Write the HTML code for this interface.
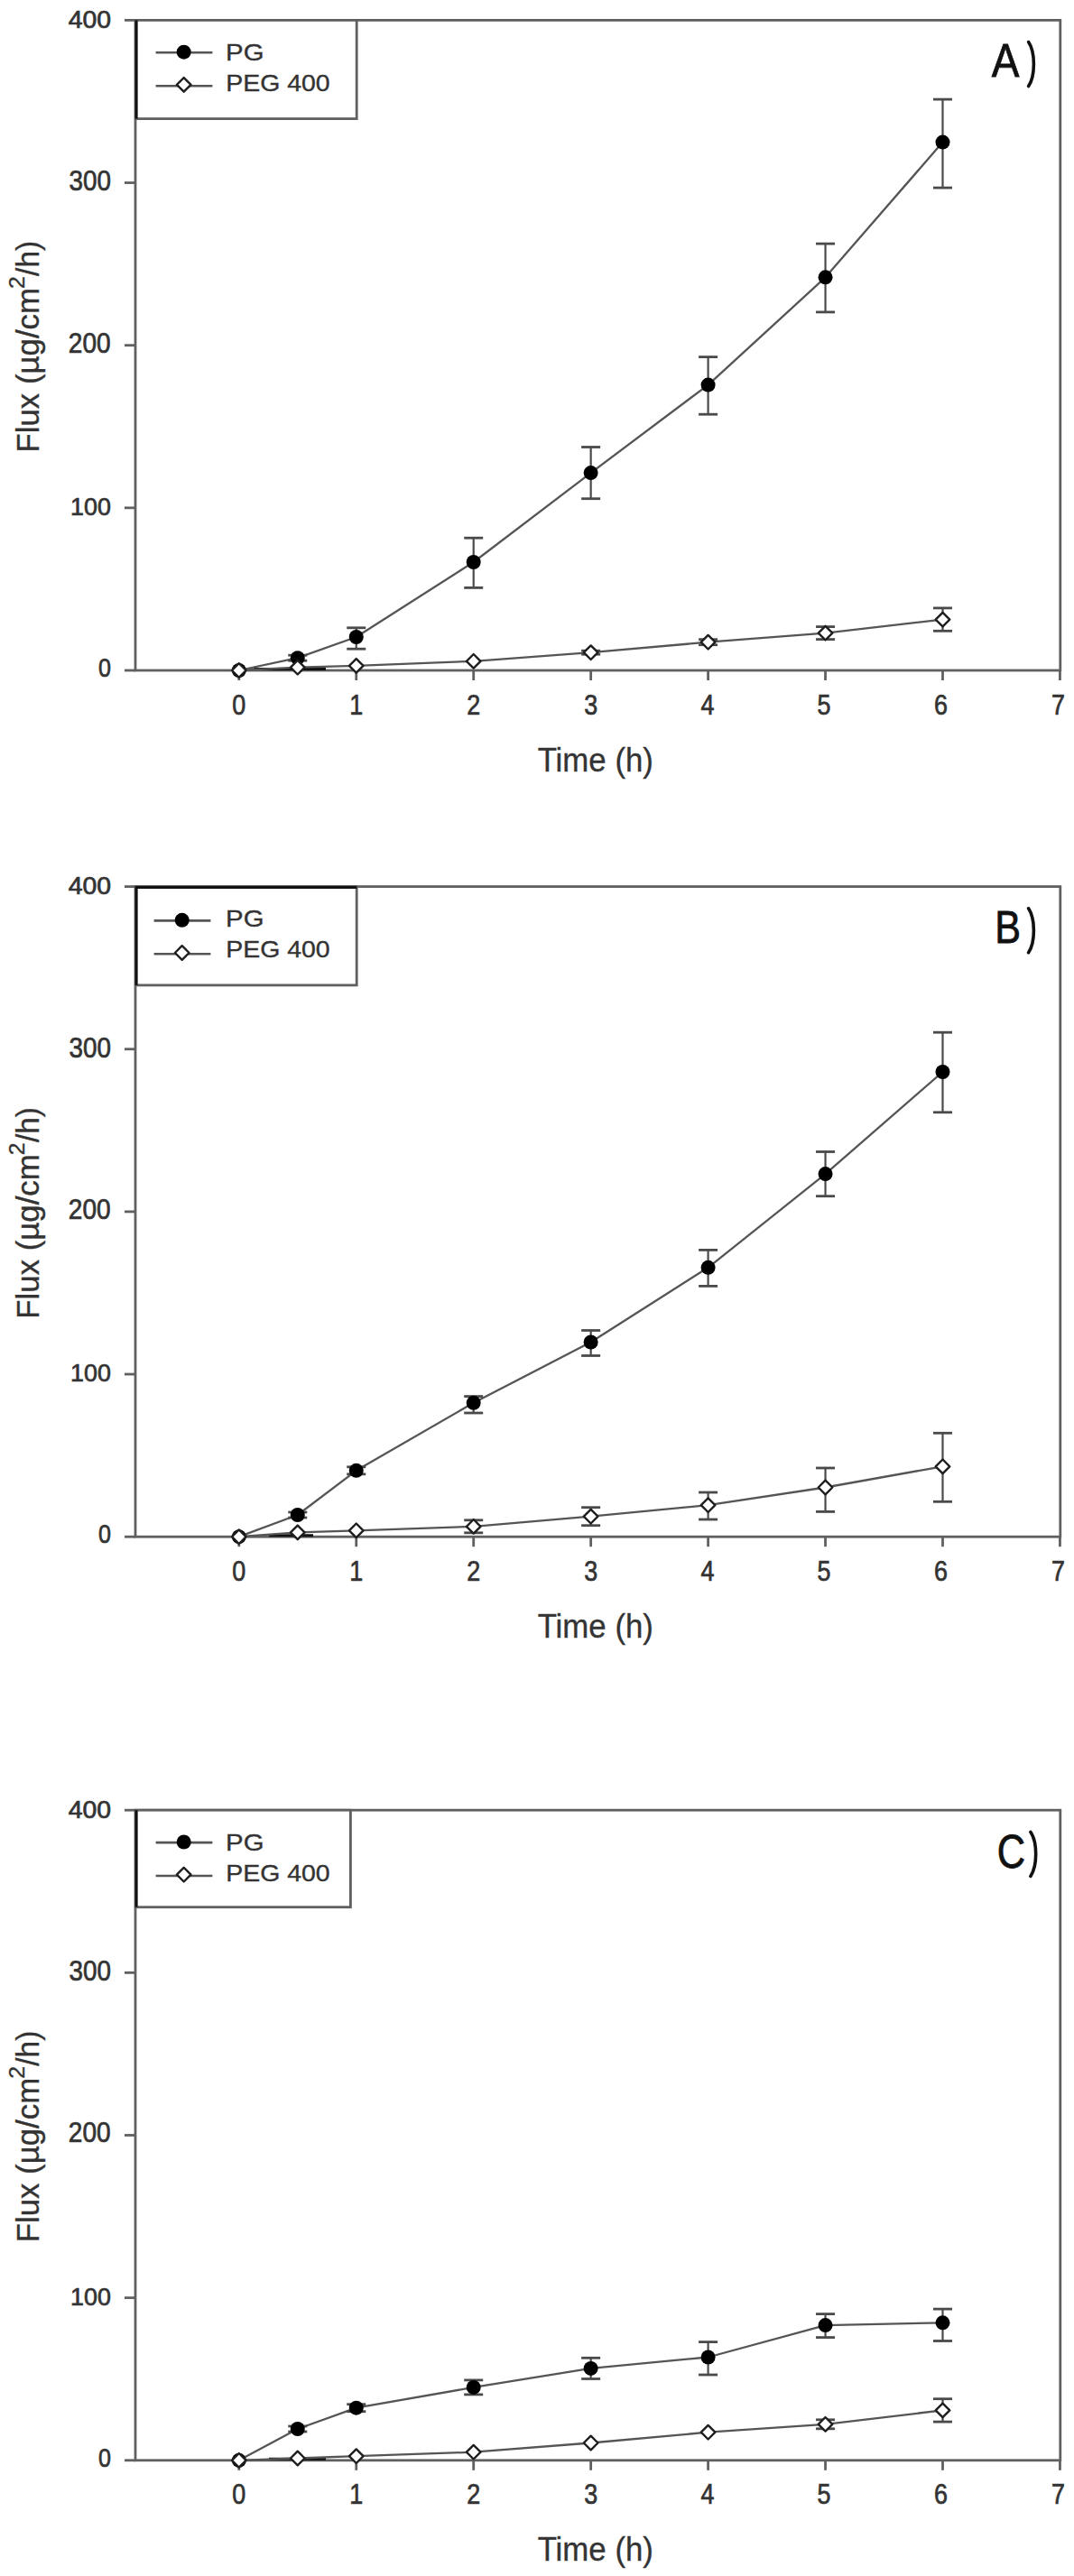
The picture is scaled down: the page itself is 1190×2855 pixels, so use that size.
<!DOCTYPE html>
<html><head><meta charset="utf-8"><title>Flux chart</title><style>html,body{margin:0;padding:0;background:#fff;}body{width:1190px;height:2855px;overflow:hidden;font-family:"Liberation Sans",sans-serif;}svg{display:block;}</style></head><body>
<svg width="1190" height="2855" viewBox="0 0 1190 2855" font-family="Liberation Sans, sans-serif">
<rect width="1190" height="2855" fill="#fff"/>
<g>
<rect width="1190" height="2855" fill="#fff"/>
<g transform="translate(0,0.00)">
<line x1="138" y1="743.00" x2="150.00" y2="743.00" stroke="#606060" stroke-width="2.8"/>
<text x="108.92" y="749.91" font-size="28.81" textLength="13.96" lengthAdjust="spacingAndGlyphs" fill="#333" stroke="#333" stroke-width="0.7">0</text>
<line x1="138" y1="562.85" x2="150.00" y2="562.85" stroke="#606060" stroke-width="2.8"/>
<text x="78.05" y="570.72" font-size="28.39" textLength="44.91" lengthAdjust="spacingAndGlyphs" fill="#333" stroke="#333" stroke-width="0.7">100</text>
<line x1="138" y1="382.70" x2="150.00" y2="382.70" stroke="#606060" stroke-width="2.8"/>
<text x="75.80" y="390.59" font-size="31.21" textLength="46.81" lengthAdjust="spacingAndGlyphs" fill="#333" stroke="#333" stroke-width="0.7">200</text>
<line x1="138" y1="202.55" x2="150.00" y2="202.55" stroke="#606060" stroke-width="2.8"/>
<text x="76.54" y="211.49" font-size="31.21" textLength="46.46" lengthAdjust="spacingAndGlyphs" fill="#333" stroke="#333" stroke-width="0.7">300</text>
<line x1="138" y1="22.40" x2="150.00" y2="22.40" stroke="#606060" stroke-width="2.8"/>
<text x="75.65" y="31.03" font-size="26.98" textLength="47.37" lengthAdjust="spacingAndGlyphs" fill="#333" stroke="#333" stroke-width="0.7">400</text>
<line x1="264.80" y1="743.00" x2="264.80" y2="754" stroke="#606060" stroke-width="2.8"/>
<text x="257.31" y="791.60" font-size="30.60" textLength="14.98" lengthAdjust="spacingAndGlyphs" fill="#333" stroke="#333" stroke-width="0.7">0</text>
<line x1="394.75" y1="743.00" x2="394.75" y2="754" stroke="#606060" stroke-width="2.8"/>
<text x="387.20" y="791.60" font-size="30.60" textLength="14.98" lengthAdjust="spacingAndGlyphs" fill="#333" stroke="#333" stroke-width="0.7">1</text>
<line x1="524.70" y1="743.00" x2="524.70" y2="754" stroke="#606060" stroke-width="2.8"/>
<text x="517.21" y="791.60" font-size="30.60" textLength="14.98" lengthAdjust="spacingAndGlyphs" fill="#333" stroke="#333" stroke-width="0.7">2</text>
<line x1="654.65" y1="743.00" x2="654.65" y2="754" stroke="#606060" stroke-width="2.8"/>
<text x="647.24" y="791.60" font-size="30.60" textLength="14.98" lengthAdjust="spacingAndGlyphs" fill="#333" stroke="#333" stroke-width="0.7">3</text>
<line x1="784.60" y1="743.00" x2="784.60" y2="754" stroke="#606060" stroke-width="2.8"/>
<text x="776.59" y="791.60" font-size="30.60" textLength="14.98" lengthAdjust="spacingAndGlyphs" fill="#333" stroke="#333" stroke-width="0.7">4</text>
<line x1="914.55" y1="743.00" x2="914.55" y2="754" stroke="#606060" stroke-width="2.8"/>
<text x="905.39" y="791.60" font-size="30.60" textLength="14.98" lengthAdjust="spacingAndGlyphs" fill="#333" stroke="#333" stroke-width="0.7">5</text>
<line x1="1044.50" y1="743.00" x2="1044.50" y2="754" stroke="#606060" stroke-width="2.8"/>
<text x="1035.02" y="791.60" font-size="30.60" textLength="14.98" lengthAdjust="spacingAndGlyphs" fill="#333" stroke="#333" stroke-width="0.7">6</text>
<line x1="1174.45" y1="743.00" x2="1174.45" y2="754" stroke="#606060" stroke-width="2.8"/>
<text x="1164.95" y="791.60" font-size="30.60" textLength="14.98" lengthAdjust="spacingAndGlyphs" fill="#333" stroke="#333" stroke-width="0.7">7</text>
<rect x="150.00" y="22.40" width="1024.80" height="720.60" fill="none" stroke="#606060" stroke-width="2.8"/>
<text x="595.63" y="854.70" font-size="36.00" textLength="128.33" lengthAdjust="spacingAndGlyphs" fill="#333" stroke="#333" stroke-width="0.35">Time (h)</text>
<text transform="translate(43.10,498.60) rotate(-90)" x="-2.85" y="0" font-size="35.50" textLength="182.35" lengthAdjust="spacingAndGlyphs" fill="#333" stroke="#333" stroke-width="0.35">Flux (µg/cm</text>
<text transform="translate(26.90,318.70) rotate(-90)" x="-1.24" y="0" font-size="24.00" textLength="13.78" lengthAdjust="spacingAndGlyphs" fill="#333" stroke="#333" stroke-width="0.35">2</text>
<text transform="translate(43.10,305.90) rotate(-90)" x="0.00" y="0" font-size="35.50" textLength="39.08" lengthAdjust="spacingAndGlyphs" fill="#333" stroke="#333" stroke-width="0.35">/h)</text>
<text x="1098.71" y="85.40" font-size="51.74" textLength="30.68" lengthAdjust="spacingAndGlyphs" fill="#111" stroke="#111" stroke-width="0.8">A</text>
<path d="M1139.60 46.6C1147.30 58 1147.30 84 1139.60 95.6" fill="none" stroke="#111" stroke-width="3.6" stroke-linecap="round"/>
<rect x="151" y="22.40" width="244.20" height="109.20" fill="#fff" stroke="#606060" stroke-width="2.8"/>
<line x1="151" y1="22.40" x2="151" y2="131.60" stroke="#111" stroke-width="3"/>
<g transform="translate(0,0)">
<line x1="172.6" y1="58.3" x2="235.4" y2="58.3" stroke="#555" stroke-width="2.6"/>
<circle cx="203.7" cy="57.7" r="8.0" fill="#000"/>
<line x1="172.6" y1="95.2" x2="235.4" y2="95.2" stroke="#555" stroke-width="2.6"/>
<path d="M203.70 86.10L211.50 93.90L203.70 101.70L195.90 93.90Z" fill="#fff" stroke="#1e1e1e" stroke-width="2.4" stroke-linejoin="round"/>
</g>
<text x="250.09" y="67.20" font-size="26.50" textLength="42.40" lengthAdjust="spacingAndGlyphs" fill="#333" stroke="#333" stroke-width="0.35">PG</text>
<text x="250.17" y="101.10" font-size="26.50" textLength="115.55" lengthAdjust="spacingAndGlyphs" fill="#333" stroke="#333" stroke-width="0.35">PEG 400</text>
<line x1="281" y1="741.5" x2="361" y2="741.5" stroke="#111" stroke-width="3"/>
<polyline points="264.80,743.00 329.77,729.20 394.75,706.00 524.70,623.00 654.65,524.10 784.60,426.60 914.55,307.30 1044.50,157.60" fill="none" stroke="#555" stroke-width="2.3" stroke-linejoin="round"/>
<polyline points="264.80,743.00 329.77,739.70 394.75,737.90 524.70,732.80 654.65,723.20 784.60,711.70 914.55,701.60 1044.50,686.60" fill="none" stroke="#555" stroke-width="2.3" stroke-linejoin="round"/>
<line x1="329.77" y1="726.20" x2="329.77" y2="732.20" stroke="#4a4a4a" stroke-width="2.2"/>
<line x1="319.27" y1="726.20" x2="340.27" y2="726.20" stroke="#4a4a4a" stroke-width="2.8"/>
<line x1="319.27" y1="732.20" x2="340.27" y2="732.20" stroke="#4a4a4a" stroke-width="2.8"/>
<line x1="394.75" y1="695.80" x2="394.75" y2="719.20" stroke="#4a4a4a" stroke-width="2.2"/>
<line x1="384.25" y1="695.80" x2="405.25" y2="695.80" stroke="#4a4a4a" stroke-width="2.8"/>
<line x1="384.25" y1="719.20" x2="405.25" y2="719.20" stroke="#4a4a4a" stroke-width="2.8"/>
<line x1="524.70" y1="596.20" x2="524.70" y2="651.40" stroke="#4a4a4a" stroke-width="2.2"/>
<line x1="514.20" y1="596.20" x2="535.20" y2="596.20" stroke="#4a4a4a" stroke-width="2.8"/>
<line x1="514.20" y1="651.40" x2="535.20" y2="651.40" stroke="#4a4a4a" stroke-width="2.8"/>
<line x1="654.65" y1="495.50" x2="654.65" y2="552.70" stroke="#4a4a4a" stroke-width="2.2"/>
<line x1="644.15" y1="495.50" x2="665.15" y2="495.50" stroke="#4a4a4a" stroke-width="2.8"/>
<line x1="644.15" y1="552.70" x2="665.15" y2="552.70" stroke="#4a4a4a" stroke-width="2.8"/>
<line x1="784.60" y1="395.60" x2="784.60" y2="459.20" stroke="#4a4a4a" stroke-width="2.2"/>
<line x1="774.10" y1="395.60" x2="795.10" y2="395.60" stroke="#4a4a4a" stroke-width="2.8"/>
<line x1="774.10" y1="459.20" x2="795.10" y2="459.20" stroke="#4a4a4a" stroke-width="2.8"/>
<line x1="914.55" y1="270.10" x2="914.55" y2="345.90" stroke="#4a4a4a" stroke-width="2.2"/>
<line x1="904.05" y1="270.10" x2="925.05" y2="270.10" stroke="#4a4a4a" stroke-width="2.8"/>
<line x1="904.05" y1="345.90" x2="925.05" y2="345.90" stroke="#4a4a4a" stroke-width="2.8"/>
<line x1="1044.50" y1="110.10" x2="1044.50" y2="208.10" stroke="#4a4a4a" stroke-width="2.2"/>
<line x1="1034.00" y1="110.10" x2="1055.00" y2="110.10" stroke="#4a4a4a" stroke-width="2.8"/>
<line x1="1034.00" y1="208.10" x2="1055.00" y2="208.10" stroke="#4a4a4a" stroke-width="2.8"/>
<circle cx="264.80" cy="743.00" r="8.0" fill="#000"/>
<circle cx="329.77" cy="729.20" r="8.0" fill="#000"/>
<circle cx="394.75" cy="706.00" r="8.0" fill="#000"/>
<circle cx="524.70" cy="623.00" r="8.0" fill="#000"/>
<circle cx="654.65" cy="524.10" r="8.0" fill="#000"/>
<circle cx="784.60" cy="426.60" r="8.0" fill="#000"/>
<circle cx="914.55" cy="307.30" r="8.0" fill="#000"/>
<circle cx="1044.50" cy="157.60" r="8.0" fill="#000"/>
<line x1="654.65" y1="721.20" x2="654.65" y2="725.20" stroke="#4a4a4a" stroke-width="2.2"/>
<line x1="644.15" y1="721.20" x2="665.15" y2="721.20" stroke="#4a4a4a" stroke-width="2.8"/>
<line x1="644.15" y1="725.20" x2="665.15" y2="725.20" stroke="#4a4a4a" stroke-width="2.8"/>
<line x1="784.60" y1="708.70" x2="784.60" y2="714.70" stroke="#4a4a4a" stroke-width="2.2"/>
<line x1="774.10" y1="708.70" x2="795.10" y2="708.70" stroke="#4a4a4a" stroke-width="2.8"/>
<line x1="774.10" y1="714.70" x2="795.10" y2="714.70" stroke="#4a4a4a" stroke-width="2.8"/>
<line x1="914.55" y1="694.60" x2="914.55" y2="708.60" stroke="#4a4a4a" stroke-width="2.2"/>
<line x1="904.05" y1="694.60" x2="925.05" y2="694.60" stroke="#4a4a4a" stroke-width="2.8"/>
<line x1="904.05" y1="708.60" x2="925.05" y2="708.60" stroke="#4a4a4a" stroke-width="2.8"/>
<line x1="1044.50" y1="673.90" x2="1044.50" y2="699.30" stroke="#4a4a4a" stroke-width="2.2"/>
<line x1="1034.00" y1="673.90" x2="1055.00" y2="673.90" stroke="#4a4a4a" stroke-width="2.8"/>
<line x1="1034.00" y1="699.30" x2="1055.00" y2="699.30" stroke="#4a4a4a" stroke-width="2.8"/>
<path d="M264.80 735.20L272.60 743.00L264.80 750.80L257.00 743.00Z" fill="#fff" stroke="#1e1e1e" stroke-width="2.4" stroke-linejoin="round"/>
<path d="M329.77 731.90L337.57 739.70L329.77 747.50L321.97 739.70Z" fill="#fff" stroke="#1e1e1e" stroke-width="2.4" stroke-linejoin="round"/>
<path d="M394.75 730.10L402.55 737.90L394.75 745.70L386.95 737.90Z" fill="#fff" stroke="#1e1e1e" stroke-width="2.4" stroke-linejoin="round"/>
<path d="M524.70 725.00L532.50 732.80L524.70 740.60L516.90 732.80Z" fill="#fff" stroke="#1e1e1e" stroke-width="2.4" stroke-linejoin="round"/>
<path d="M654.65 715.40L662.45 723.20L654.65 731.00L646.85 723.20Z" fill="#fff" stroke="#1e1e1e" stroke-width="2.4" stroke-linejoin="round"/>
<path d="M784.60 703.90L792.40 711.70L784.60 719.50L776.80 711.70Z" fill="#fff" stroke="#1e1e1e" stroke-width="2.4" stroke-linejoin="round"/>
<path d="M914.55 693.80L922.35 701.60L914.55 709.40L906.75 701.60Z" fill="#fff" stroke="#1e1e1e" stroke-width="2.4" stroke-linejoin="round"/>
<path d="M1044.50 678.80L1052.30 686.60L1044.50 694.40L1036.70 686.60Z" fill="#fff" stroke="#1e1e1e" stroke-width="2.4" stroke-linejoin="round"/>
</g>
<g transform="translate(0,960.20)">
<line x1="138" y1="743.00" x2="150.00" y2="743.00" stroke="#606060" stroke-width="2.8"/>
<text x="108.92" y="749.91" font-size="28.81" textLength="13.96" lengthAdjust="spacingAndGlyphs" fill="#333" stroke="#333" stroke-width="0.7">0</text>
<line x1="138" y1="562.85" x2="150.00" y2="562.85" stroke="#606060" stroke-width="2.8"/>
<text x="78.05" y="570.72" font-size="28.39" textLength="44.91" lengthAdjust="spacingAndGlyphs" fill="#333" stroke="#333" stroke-width="0.7">100</text>
<line x1="138" y1="382.70" x2="150.00" y2="382.70" stroke="#606060" stroke-width="2.8"/>
<text x="75.80" y="390.59" font-size="31.21" textLength="46.81" lengthAdjust="spacingAndGlyphs" fill="#333" stroke="#333" stroke-width="0.7">200</text>
<line x1="138" y1="202.55" x2="150.00" y2="202.55" stroke="#606060" stroke-width="2.8"/>
<text x="76.54" y="211.49" font-size="31.21" textLength="46.46" lengthAdjust="spacingAndGlyphs" fill="#333" stroke="#333" stroke-width="0.7">300</text>
<line x1="138" y1="22.40" x2="150.00" y2="22.40" stroke="#606060" stroke-width="2.8"/>
<text x="75.65" y="31.03" font-size="26.98" textLength="47.37" lengthAdjust="spacingAndGlyphs" fill="#333" stroke="#333" stroke-width="0.7">400</text>
<line x1="264.80" y1="743.00" x2="264.80" y2="754" stroke="#606060" stroke-width="2.8"/>
<text x="257.31" y="791.60" font-size="30.60" textLength="14.98" lengthAdjust="spacingAndGlyphs" fill="#333" stroke="#333" stroke-width="0.7">0</text>
<line x1="394.75" y1="743.00" x2="394.75" y2="754" stroke="#606060" stroke-width="2.8"/>
<text x="387.20" y="791.60" font-size="30.60" textLength="14.98" lengthAdjust="spacingAndGlyphs" fill="#333" stroke="#333" stroke-width="0.7">1</text>
<line x1="524.70" y1="743.00" x2="524.70" y2="754" stroke="#606060" stroke-width="2.8"/>
<text x="517.21" y="791.60" font-size="30.60" textLength="14.98" lengthAdjust="spacingAndGlyphs" fill="#333" stroke="#333" stroke-width="0.7">2</text>
<line x1="654.65" y1="743.00" x2="654.65" y2="754" stroke="#606060" stroke-width="2.8"/>
<text x="647.24" y="791.60" font-size="30.60" textLength="14.98" lengthAdjust="spacingAndGlyphs" fill="#333" stroke="#333" stroke-width="0.7">3</text>
<line x1="784.60" y1="743.00" x2="784.60" y2="754" stroke="#606060" stroke-width="2.8"/>
<text x="776.59" y="791.60" font-size="30.60" textLength="14.98" lengthAdjust="spacingAndGlyphs" fill="#333" stroke="#333" stroke-width="0.7">4</text>
<line x1="914.55" y1="743.00" x2="914.55" y2="754" stroke="#606060" stroke-width="2.8"/>
<text x="905.39" y="791.60" font-size="30.60" textLength="14.98" lengthAdjust="spacingAndGlyphs" fill="#333" stroke="#333" stroke-width="0.7">5</text>
<line x1="1044.50" y1="743.00" x2="1044.50" y2="754" stroke="#606060" stroke-width="2.8"/>
<text x="1035.02" y="791.60" font-size="30.60" textLength="14.98" lengthAdjust="spacingAndGlyphs" fill="#333" stroke="#333" stroke-width="0.7">6</text>
<line x1="1174.45" y1="743.00" x2="1174.45" y2="754" stroke="#606060" stroke-width="2.8"/>
<text x="1164.95" y="791.60" font-size="30.60" textLength="14.98" lengthAdjust="spacingAndGlyphs" fill="#333" stroke="#333" stroke-width="0.7">7</text>
<rect x="150.00" y="22.40" width="1024.80" height="720.60" fill="none" stroke="#606060" stroke-width="2.8"/>
<text x="595.63" y="854.70" font-size="36.00" textLength="128.33" lengthAdjust="spacingAndGlyphs" fill="#333" stroke="#333" stroke-width="0.35">Time (h)</text>
<text transform="translate(43.10,498.60) rotate(-90)" x="-2.85" y="0" font-size="35.50" textLength="182.35" lengthAdjust="spacingAndGlyphs" fill="#333" stroke="#333" stroke-width="0.35">Flux (µg/cm</text>
<text transform="translate(26.90,318.70) rotate(-90)" x="-1.24" y="0" font-size="24.00" textLength="13.78" lengthAdjust="spacingAndGlyphs" fill="#333" stroke="#333" stroke-width="0.35">2</text>
<text transform="translate(43.10,305.90) rotate(-90)" x="0.00" y="0" font-size="35.50" textLength="39.08" lengthAdjust="spacingAndGlyphs" fill="#333" stroke="#333" stroke-width="0.35">/h)</text>
<text x="1102.25" y="85.20" font-size="50.87" textLength="28.84" lengthAdjust="spacingAndGlyphs" fill="#111" stroke="#111" stroke-width="0.8">B</text>
<path d="M1139.60 46.6C1147.30 58 1147.30 84 1139.60 95.6" fill="none" stroke="#111" stroke-width="3.6" stroke-linecap="round"/>
<rect x="151" y="22.40" width="244.20" height="109.30" fill="#fff" stroke="#606060" stroke-width="2.8"/>
<line x1="150" y1="23.3" x2="395.20" y2="23.3" stroke="#111" stroke-width="3.2"/>
<line x1="151" y1="22.40" x2="151" y2="131.70" stroke="#111" stroke-width="3"/>
<g transform="translate(-2.0,1.9)">
<line x1="172.6" y1="58.3" x2="235.4" y2="58.3" stroke="#555" stroke-width="2.6"/>
<circle cx="203.7" cy="57.7" r="8.0" fill="#000"/>
<line x1="172.6" y1="95.2" x2="235.4" y2="95.2" stroke="#555" stroke-width="2.6"/>
<path d="M203.70 86.10L211.50 93.90L203.70 101.70L195.90 93.90Z" fill="#fff" stroke="#1e1e1e" stroke-width="2.4" stroke-linejoin="round"/>
</g>
<text x="250.09" y="67.20" font-size="26.50" textLength="42.40" lengthAdjust="spacingAndGlyphs" fill="#333" stroke="#333" stroke-width="0.35">PG</text>
<text x="250.17" y="101.10" font-size="26.50" textLength="115.55" lengthAdjust="spacingAndGlyphs" fill="#333" stroke="#333" stroke-width="0.35">PEG 400</text>
<line x1="298" y1="741.5" x2="347" y2="741.5" stroke="#111" stroke-width="3"/>
<polyline points="264.80,743.00 329.77,718.80 394.75,669.60 524.70,594.60 654.65,527.30 784.60,444.60 914.55,340.90 1044.50,227.80" fill="none" stroke="#555" stroke-width="2.3" stroke-linejoin="round"/>
<polyline points="264.80,743.00 329.77,738.20 394.75,736.10 524.70,731.60 654.65,720.50 784.60,708.00 914.55,688.30 1044.50,665.10" fill="none" stroke="#555" stroke-width="2.3" stroke-linejoin="round"/>
<line x1="329.77" y1="715.80" x2="329.77" y2="721.80" stroke="#4a4a4a" stroke-width="2.2"/>
<line x1="319.27" y1="715.80" x2="340.27" y2="715.80" stroke="#4a4a4a" stroke-width="2.8"/>
<line x1="319.27" y1="721.80" x2="340.27" y2="721.80" stroke="#4a4a4a" stroke-width="2.8"/>
<line x1="394.75" y1="665.60" x2="394.75" y2="673.60" stroke="#4a4a4a" stroke-width="2.2"/>
<line x1="384.25" y1="665.60" x2="405.25" y2="665.60" stroke="#4a4a4a" stroke-width="2.8"/>
<line x1="384.25" y1="673.60" x2="405.25" y2="673.60" stroke="#4a4a4a" stroke-width="2.8"/>
<line x1="524.70" y1="587.40" x2="524.70" y2="605.80" stroke="#4a4a4a" stroke-width="2.2"/>
<line x1="514.20" y1="587.40" x2="535.20" y2="587.40" stroke="#4a4a4a" stroke-width="2.8"/>
<line x1="514.20" y1="605.80" x2="535.20" y2="605.80" stroke="#4a4a4a" stroke-width="2.8"/>
<line x1="654.65" y1="514.30" x2="654.65" y2="542.30" stroke="#4a4a4a" stroke-width="2.2"/>
<line x1="644.15" y1="514.30" x2="665.15" y2="514.30" stroke="#4a4a4a" stroke-width="2.8"/>
<line x1="644.15" y1="542.30" x2="665.15" y2="542.30" stroke="#4a4a4a" stroke-width="2.8"/>
<line x1="784.60" y1="425.20" x2="784.60" y2="465.20" stroke="#4a4a4a" stroke-width="2.2"/>
<line x1="774.10" y1="425.20" x2="795.10" y2="425.20" stroke="#4a4a4a" stroke-width="2.8"/>
<line x1="774.10" y1="465.20" x2="795.10" y2="465.20" stroke="#4a4a4a" stroke-width="2.8"/>
<line x1="914.55" y1="316.30" x2="914.55" y2="365.50" stroke="#4a4a4a" stroke-width="2.2"/>
<line x1="904.05" y1="316.30" x2="925.05" y2="316.30" stroke="#4a4a4a" stroke-width="2.8"/>
<line x1="904.05" y1="365.50" x2="925.05" y2="365.50" stroke="#4a4a4a" stroke-width="2.8"/>
<line x1="1044.50" y1="184.00" x2="1044.50" y2="272.60" stroke="#4a4a4a" stroke-width="2.2"/>
<line x1="1034.00" y1="184.00" x2="1055.00" y2="184.00" stroke="#4a4a4a" stroke-width="2.8"/>
<line x1="1034.00" y1="272.60" x2="1055.00" y2="272.60" stroke="#4a4a4a" stroke-width="2.8"/>
<circle cx="264.80" cy="743.00" r="8.0" fill="#000"/>
<circle cx="329.77" cy="718.80" r="8.0" fill="#000"/>
<circle cx="394.75" cy="669.60" r="8.0" fill="#000"/>
<circle cx="524.70" cy="594.60" r="8.0" fill="#000"/>
<circle cx="654.65" cy="527.30" r="8.0" fill="#000"/>
<circle cx="784.60" cy="444.60" r="8.0" fill="#000"/>
<circle cx="914.55" cy="340.90" r="8.0" fill="#000"/>
<circle cx="1044.50" cy="227.80" r="8.0" fill="#000"/>
<line x1="524.70" y1="724.60" x2="524.70" y2="738.60" stroke="#4a4a4a" stroke-width="2.2"/>
<line x1="514.20" y1="724.60" x2="535.20" y2="724.60" stroke="#4a4a4a" stroke-width="2.8"/>
<line x1="514.20" y1="738.60" x2="535.20" y2="738.60" stroke="#4a4a4a" stroke-width="2.8"/>
<line x1="654.65" y1="710.50" x2="654.65" y2="730.50" stroke="#4a4a4a" stroke-width="2.2"/>
<line x1="644.15" y1="710.50" x2="665.15" y2="710.50" stroke="#4a4a4a" stroke-width="2.8"/>
<line x1="644.15" y1="730.50" x2="665.15" y2="730.50" stroke="#4a4a4a" stroke-width="2.8"/>
<line x1="784.60" y1="693.80" x2="784.60" y2="723.80" stroke="#4a4a4a" stroke-width="2.2"/>
<line x1="774.10" y1="693.80" x2="795.10" y2="693.80" stroke="#4a4a4a" stroke-width="2.8"/>
<line x1="774.10" y1="723.80" x2="795.10" y2="723.80" stroke="#4a4a4a" stroke-width="2.8"/>
<line x1="914.55" y1="666.80" x2="914.55" y2="715.20" stroke="#4a4a4a" stroke-width="2.2"/>
<line x1="904.05" y1="666.80" x2="925.05" y2="666.80" stroke="#4a4a4a" stroke-width="2.8"/>
<line x1="904.05" y1="715.20" x2="925.05" y2="715.20" stroke="#4a4a4a" stroke-width="2.8"/>
<line x1="1044.50" y1="628.10" x2="1044.50" y2="704.10" stroke="#4a4a4a" stroke-width="2.2"/>
<line x1="1034.00" y1="628.10" x2="1055.00" y2="628.10" stroke="#4a4a4a" stroke-width="2.8"/>
<line x1="1034.00" y1="704.10" x2="1055.00" y2="704.10" stroke="#4a4a4a" stroke-width="2.8"/>
<path d="M264.80 735.20L272.60 743.00L264.80 750.80L257.00 743.00Z" fill="#fff" stroke="#1e1e1e" stroke-width="2.4" stroke-linejoin="round"/>
<path d="M329.77 730.40L337.57 738.20L329.77 746.00L321.97 738.20Z" fill="#fff" stroke="#1e1e1e" stroke-width="2.4" stroke-linejoin="round"/>
<path d="M394.75 728.30L402.55 736.10L394.75 743.90L386.95 736.10Z" fill="#fff" stroke="#1e1e1e" stroke-width="2.4" stroke-linejoin="round"/>
<path d="M524.70 723.80L532.50 731.60L524.70 739.40L516.90 731.60Z" fill="#fff" stroke="#1e1e1e" stroke-width="2.4" stroke-linejoin="round"/>
<path d="M654.65 712.70L662.45 720.50L654.65 728.30L646.85 720.50Z" fill="#fff" stroke="#1e1e1e" stroke-width="2.4" stroke-linejoin="round"/>
<path d="M784.60 700.20L792.40 708.00L784.60 715.80L776.80 708.00Z" fill="#fff" stroke="#1e1e1e" stroke-width="2.4" stroke-linejoin="round"/>
<path d="M914.55 680.50L922.35 688.30L914.55 696.10L906.75 688.30Z" fill="#fff" stroke="#1e1e1e" stroke-width="2.4" stroke-linejoin="round"/>
<path d="M1044.50 657.30L1052.30 665.10L1044.50 672.90L1036.70 665.10Z" fill="#fff" stroke="#1e1e1e" stroke-width="2.4" stroke-linejoin="round"/>
</g>
<g transform="translate(0,1983.80)">
<line x1="138" y1="743.00" x2="150.00" y2="743.00" stroke="#606060" stroke-width="2.8"/>
<text x="108.92" y="749.91" font-size="28.81" textLength="13.96" lengthAdjust="spacingAndGlyphs" fill="#333" stroke="#333" stroke-width="0.7">0</text>
<line x1="138" y1="562.85" x2="150.00" y2="562.85" stroke="#606060" stroke-width="2.8"/>
<text x="78.05" y="570.72" font-size="28.39" textLength="44.91" lengthAdjust="spacingAndGlyphs" fill="#333" stroke="#333" stroke-width="0.7">100</text>
<line x1="138" y1="382.70" x2="150.00" y2="382.70" stroke="#606060" stroke-width="2.8"/>
<text x="75.80" y="390.59" font-size="31.21" textLength="46.81" lengthAdjust="spacingAndGlyphs" fill="#333" stroke="#333" stroke-width="0.7">200</text>
<line x1="138" y1="202.55" x2="150.00" y2="202.55" stroke="#606060" stroke-width="2.8"/>
<text x="76.54" y="211.49" font-size="31.21" textLength="46.46" lengthAdjust="spacingAndGlyphs" fill="#333" stroke="#333" stroke-width="0.7">300</text>
<line x1="138" y1="22.40" x2="150.00" y2="22.40" stroke="#606060" stroke-width="2.8"/>
<text x="75.65" y="31.03" font-size="26.98" textLength="47.37" lengthAdjust="spacingAndGlyphs" fill="#333" stroke="#333" stroke-width="0.7">400</text>
<line x1="264.80" y1="743.00" x2="264.80" y2="754" stroke="#606060" stroke-width="2.8"/>
<text x="257.31" y="791.60" font-size="30.60" textLength="14.98" lengthAdjust="spacingAndGlyphs" fill="#333" stroke="#333" stroke-width="0.7">0</text>
<line x1="394.75" y1="743.00" x2="394.75" y2="754" stroke="#606060" stroke-width="2.8"/>
<text x="387.20" y="791.60" font-size="30.60" textLength="14.98" lengthAdjust="spacingAndGlyphs" fill="#333" stroke="#333" stroke-width="0.7">1</text>
<line x1="524.70" y1="743.00" x2="524.70" y2="754" stroke="#606060" stroke-width="2.8"/>
<text x="517.21" y="791.60" font-size="30.60" textLength="14.98" lengthAdjust="spacingAndGlyphs" fill="#333" stroke="#333" stroke-width="0.7">2</text>
<line x1="654.65" y1="743.00" x2="654.65" y2="754" stroke="#606060" stroke-width="2.8"/>
<text x="647.24" y="791.60" font-size="30.60" textLength="14.98" lengthAdjust="spacingAndGlyphs" fill="#333" stroke="#333" stroke-width="0.7">3</text>
<line x1="784.60" y1="743.00" x2="784.60" y2="754" stroke="#606060" stroke-width="2.8"/>
<text x="776.59" y="791.60" font-size="30.60" textLength="14.98" lengthAdjust="spacingAndGlyphs" fill="#333" stroke="#333" stroke-width="0.7">4</text>
<line x1="914.55" y1="743.00" x2="914.55" y2="754" stroke="#606060" stroke-width="2.8"/>
<text x="905.39" y="791.60" font-size="30.60" textLength="14.98" lengthAdjust="spacingAndGlyphs" fill="#333" stroke="#333" stroke-width="0.7">5</text>
<line x1="1044.50" y1="743.00" x2="1044.50" y2="754" stroke="#606060" stroke-width="2.8"/>
<text x="1035.02" y="791.60" font-size="30.60" textLength="14.98" lengthAdjust="spacingAndGlyphs" fill="#333" stroke="#333" stroke-width="0.7">6</text>
<line x1="1174.45" y1="743.00" x2="1174.45" y2="754" stroke="#606060" stroke-width="2.8"/>
<text x="1164.95" y="791.60" font-size="30.60" textLength="14.98" lengthAdjust="spacingAndGlyphs" fill="#333" stroke="#333" stroke-width="0.7">7</text>
<rect x="150.00" y="22.40" width="1024.80" height="720.60" fill="none" stroke="#606060" stroke-width="2.8"/>
<text x="595.63" y="854.70" font-size="36.00" textLength="128.33" lengthAdjust="spacingAndGlyphs" fill="#333" stroke="#333" stroke-width="0.35">Time (h)</text>
<text transform="translate(43.10,498.60) rotate(-90)" x="-2.85" y="0" font-size="35.50" textLength="182.35" lengthAdjust="spacingAndGlyphs" fill="#333" stroke="#333" stroke-width="0.35">Flux (µg/cm</text>
<text transform="translate(26.90,318.70) rotate(-90)" x="-1.24" y="0" font-size="24.00" textLength="13.78" lengthAdjust="spacingAndGlyphs" fill="#333" stroke="#333" stroke-width="0.35">2</text>
<text transform="translate(43.10,305.90) rotate(-90)" x="0.00" y="0" font-size="35.50" textLength="39.08" lengthAdjust="spacingAndGlyphs" fill="#333" stroke="#333" stroke-width="0.35">/h)</text>
<text x="1104.79" y="85.79" font-size="51.13" textLength="31.26" lengthAdjust="spacingAndGlyphs" fill="#111" stroke="#111" stroke-width="0.8">C</text>
<path d="M1141.90 46.6C1149.60 58 1149.60 84 1141.90 95.6" fill="none" stroke="#111" stroke-width="3.6" stroke-linecap="round"/>
<rect x="151" y="22.40" width="237.40" height="107.50" fill="#fff" stroke="#606060" stroke-width="2.8"/>
<line x1="151" y1="22.40" x2="151" y2="129.90" stroke="#111" stroke-width="3"/>
<g transform="translate(0,0)">
<line x1="172.6" y1="58.3" x2="235.4" y2="58.3" stroke="#555" stroke-width="2.6"/>
<circle cx="203.7" cy="57.7" r="8.0" fill="#000"/>
<line x1="172.6" y1="95.2" x2="235.4" y2="95.2" stroke="#555" stroke-width="2.6"/>
<path d="M203.70 86.10L211.50 93.90L203.70 101.70L195.90 93.90Z" fill="#fff" stroke="#1e1e1e" stroke-width="2.4" stroke-linejoin="round"/>
</g>
<text x="250.09" y="67.20" font-size="26.50" textLength="42.40" lengthAdjust="spacingAndGlyphs" fill="#333" stroke="#333" stroke-width="0.35">PG</text>
<text x="250.17" y="101.10" font-size="26.50" textLength="115.55" lengthAdjust="spacingAndGlyphs" fill="#333" stroke="#333" stroke-width="0.35">PEG 400</text>
<line x1="298" y1="741.5" x2="361" y2="741.5" stroke="#111" stroke-width="3"/>
<polyline points="264.80,743.00 329.77,708.20 394.75,684.90 524.70,662.10 654.65,641.10 784.60,628.70 914.55,593.30 1044.50,590.50" fill="none" stroke="#555" stroke-width="2.3" stroke-linejoin="round"/>
<polyline points="264.80,743.00 329.77,740.70 394.75,738.40 524.70,733.90 654.65,723.70 784.60,711.90 914.55,703.00 1044.50,687.60" fill="none" stroke="#555" stroke-width="2.3" stroke-linejoin="round"/>
<line x1="329.77" y1="705.20" x2="329.77" y2="711.20" stroke="#4a4a4a" stroke-width="2.2"/>
<line x1="319.27" y1="705.20" x2="340.27" y2="705.20" stroke="#4a4a4a" stroke-width="2.8"/>
<line x1="319.27" y1="711.20" x2="340.27" y2="711.20" stroke="#4a4a4a" stroke-width="2.8"/>
<line x1="394.75" y1="680.90" x2="394.75" y2="688.90" stroke="#4a4a4a" stroke-width="2.2"/>
<line x1="384.25" y1="680.90" x2="405.25" y2="680.90" stroke="#4a4a4a" stroke-width="2.8"/>
<line x1="384.25" y1="688.90" x2="405.25" y2="688.90" stroke="#4a4a4a" stroke-width="2.8"/>
<line x1="524.70" y1="654.10" x2="524.70" y2="670.10" stroke="#4a4a4a" stroke-width="2.2"/>
<line x1="514.20" y1="654.10" x2="535.20" y2="654.10" stroke="#4a4a4a" stroke-width="2.8"/>
<line x1="514.20" y1="670.10" x2="535.20" y2="670.10" stroke="#4a4a4a" stroke-width="2.8"/>
<line x1="654.65" y1="629.50" x2="654.65" y2="652.70" stroke="#4a4a4a" stroke-width="2.2"/>
<line x1="644.15" y1="629.50" x2="665.15" y2="629.50" stroke="#4a4a4a" stroke-width="2.8"/>
<line x1="644.15" y1="652.70" x2="665.15" y2="652.70" stroke="#4a4a4a" stroke-width="2.8"/>
<line x1="784.60" y1="611.80" x2="784.60" y2="648.20" stroke="#4a4a4a" stroke-width="2.2"/>
<line x1="774.10" y1="611.80" x2="795.10" y2="611.80" stroke="#4a4a4a" stroke-width="2.8"/>
<line x1="774.10" y1="648.20" x2="795.10" y2="648.20" stroke="#4a4a4a" stroke-width="2.8"/>
<line x1="914.55" y1="580.80" x2="914.55" y2="606.80" stroke="#4a4a4a" stroke-width="2.2"/>
<line x1="904.05" y1="580.80" x2="925.05" y2="580.80" stroke="#4a4a4a" stroke-width="2.8"/>
<line x1="904.05" y1="606.80" x2="925.05" y2="606.80" stroke="#4a4a4a" stroke-width="2.8"/>
<line x1="1044.50" y1="575.30" x2="1044.50" y2="610.70" stroke="#4a4a4a" stroke-width="2.2"/>
<line x1="1034.00" y1="575.30" x2="1055.00" y2="575.30" stroke="#4a4a4a" stroke-width="2.8"/>
<line x1="1034.00" y1="610.70" x2="1055.00" y2="610.70" stroke="#4a4a4a" stroke-width="2.8"/>
<circle cx="264.80" cy="743.00" r="8.0" fill="#000"/>
<circle cx="329.77" cy="708.20" r="8.0" fill="#000"/>
<circle cx="394.75" cy="684.90" r="8.0" fill="#000"/>
<circle cx="524.70" cy="662.10" r="8.0" fill="#000"/>
<circle cx="654.65" cy="641.10" r="8.0" fill="#000"/>
<circle cx="784.60" cy="628.70" r="8.0" fill="#000"/>
<circle cx="914.55" cy="593.30" r="8.0" fill="#000"/>
<circle cx="1044.50" cy="590.50" r="8.0" fill="#000"/>
<line x1="914.55" y1="698.00" x2="914.55" y2="708.00" stroke="#4a4a4a" stroke-width="2.2"/>
<line x1="904.05" y1="698.00" x2="925.05" y2="698.00" stroke="#4a4a4a" stroke-width="2.8"/>
<line x1="904.05" y1="708.00" x2="925.05" y2="708.00" stroke="#4a4a4a" stroke-width="2.8"/>
<line x1="1044.50" y1="674.90" x2="1044.50" y2="700.30" stroke="#4a4a4a" stroke-width="2.2"/>
<line x1="1034.00" y1="674.90" x2="1055.00" y2="674.90" stroke="#4a4a4a" stroke-width="2.8"/>
<line x1="1034.00" y1="700.30" x2="1055.00" y2="700.30" stroke="#4a4a4a" stroke-width="2.8"/>
<path d="M264.80 735.20L272.60 743.00L264.80 750.80L257.00 743.00Z" fill="#fff" stroke="#1e1e1e" stroke-width="2.4" stroke-linejoin="round"/>
<path d="M329.77 732.90L337.57 740.70L329.77 748.50L321.97 740.70Z" fill="#fff" stroke="#1e1e1e" stroke-width="2.4" stroke-linejoin="round"/>
<path d="M394.75 730.60L402.55 738.40L394.75 746.20L386.95 738.40Z" fill="#fff" stroke="#1e1e1e" stroke-width="2.4" stroke-linejoin="round"/>
<path d="M524.70 726.10L532.50 733.90L524.70 741.70L516.90 733.90Z" fill="#fff" stroke="#1e1e1e" stroke-width="2.4" stroke-linejoin="round"/>
<path d="M654.65 715.90L662.45 723.70L654.65 731.50L646.85 723.70Z" fill="#fff" stroke="#1e1e1e" stroke-width="2.4" stroke-linejoin="round"/>
<path d="M784.60 704.10L792.40 711.90L784.60 719.70L776.80 711.90Z" fill="#fff" stroke="#1e1e1e" stroke-width="2.4" stroke-linejoin="round"/>
<path d="M914.55 695.20L922.35 703.00L914.55 710.80L906.75 703.00Z" fill="#fff" stroke="#1e1e1e" stroke-width="2.4" stroke-linejoin="round"/>
<path d="M1044.50 679.80L1052.30 687.60L1044.50 695.40L1036.70 687.60Z" fill="#fff" stroke="#1e1e1e" stroke-width="2.4" stroke-linejoin="round"/>
</g>
</g></svg>
</body></html>
